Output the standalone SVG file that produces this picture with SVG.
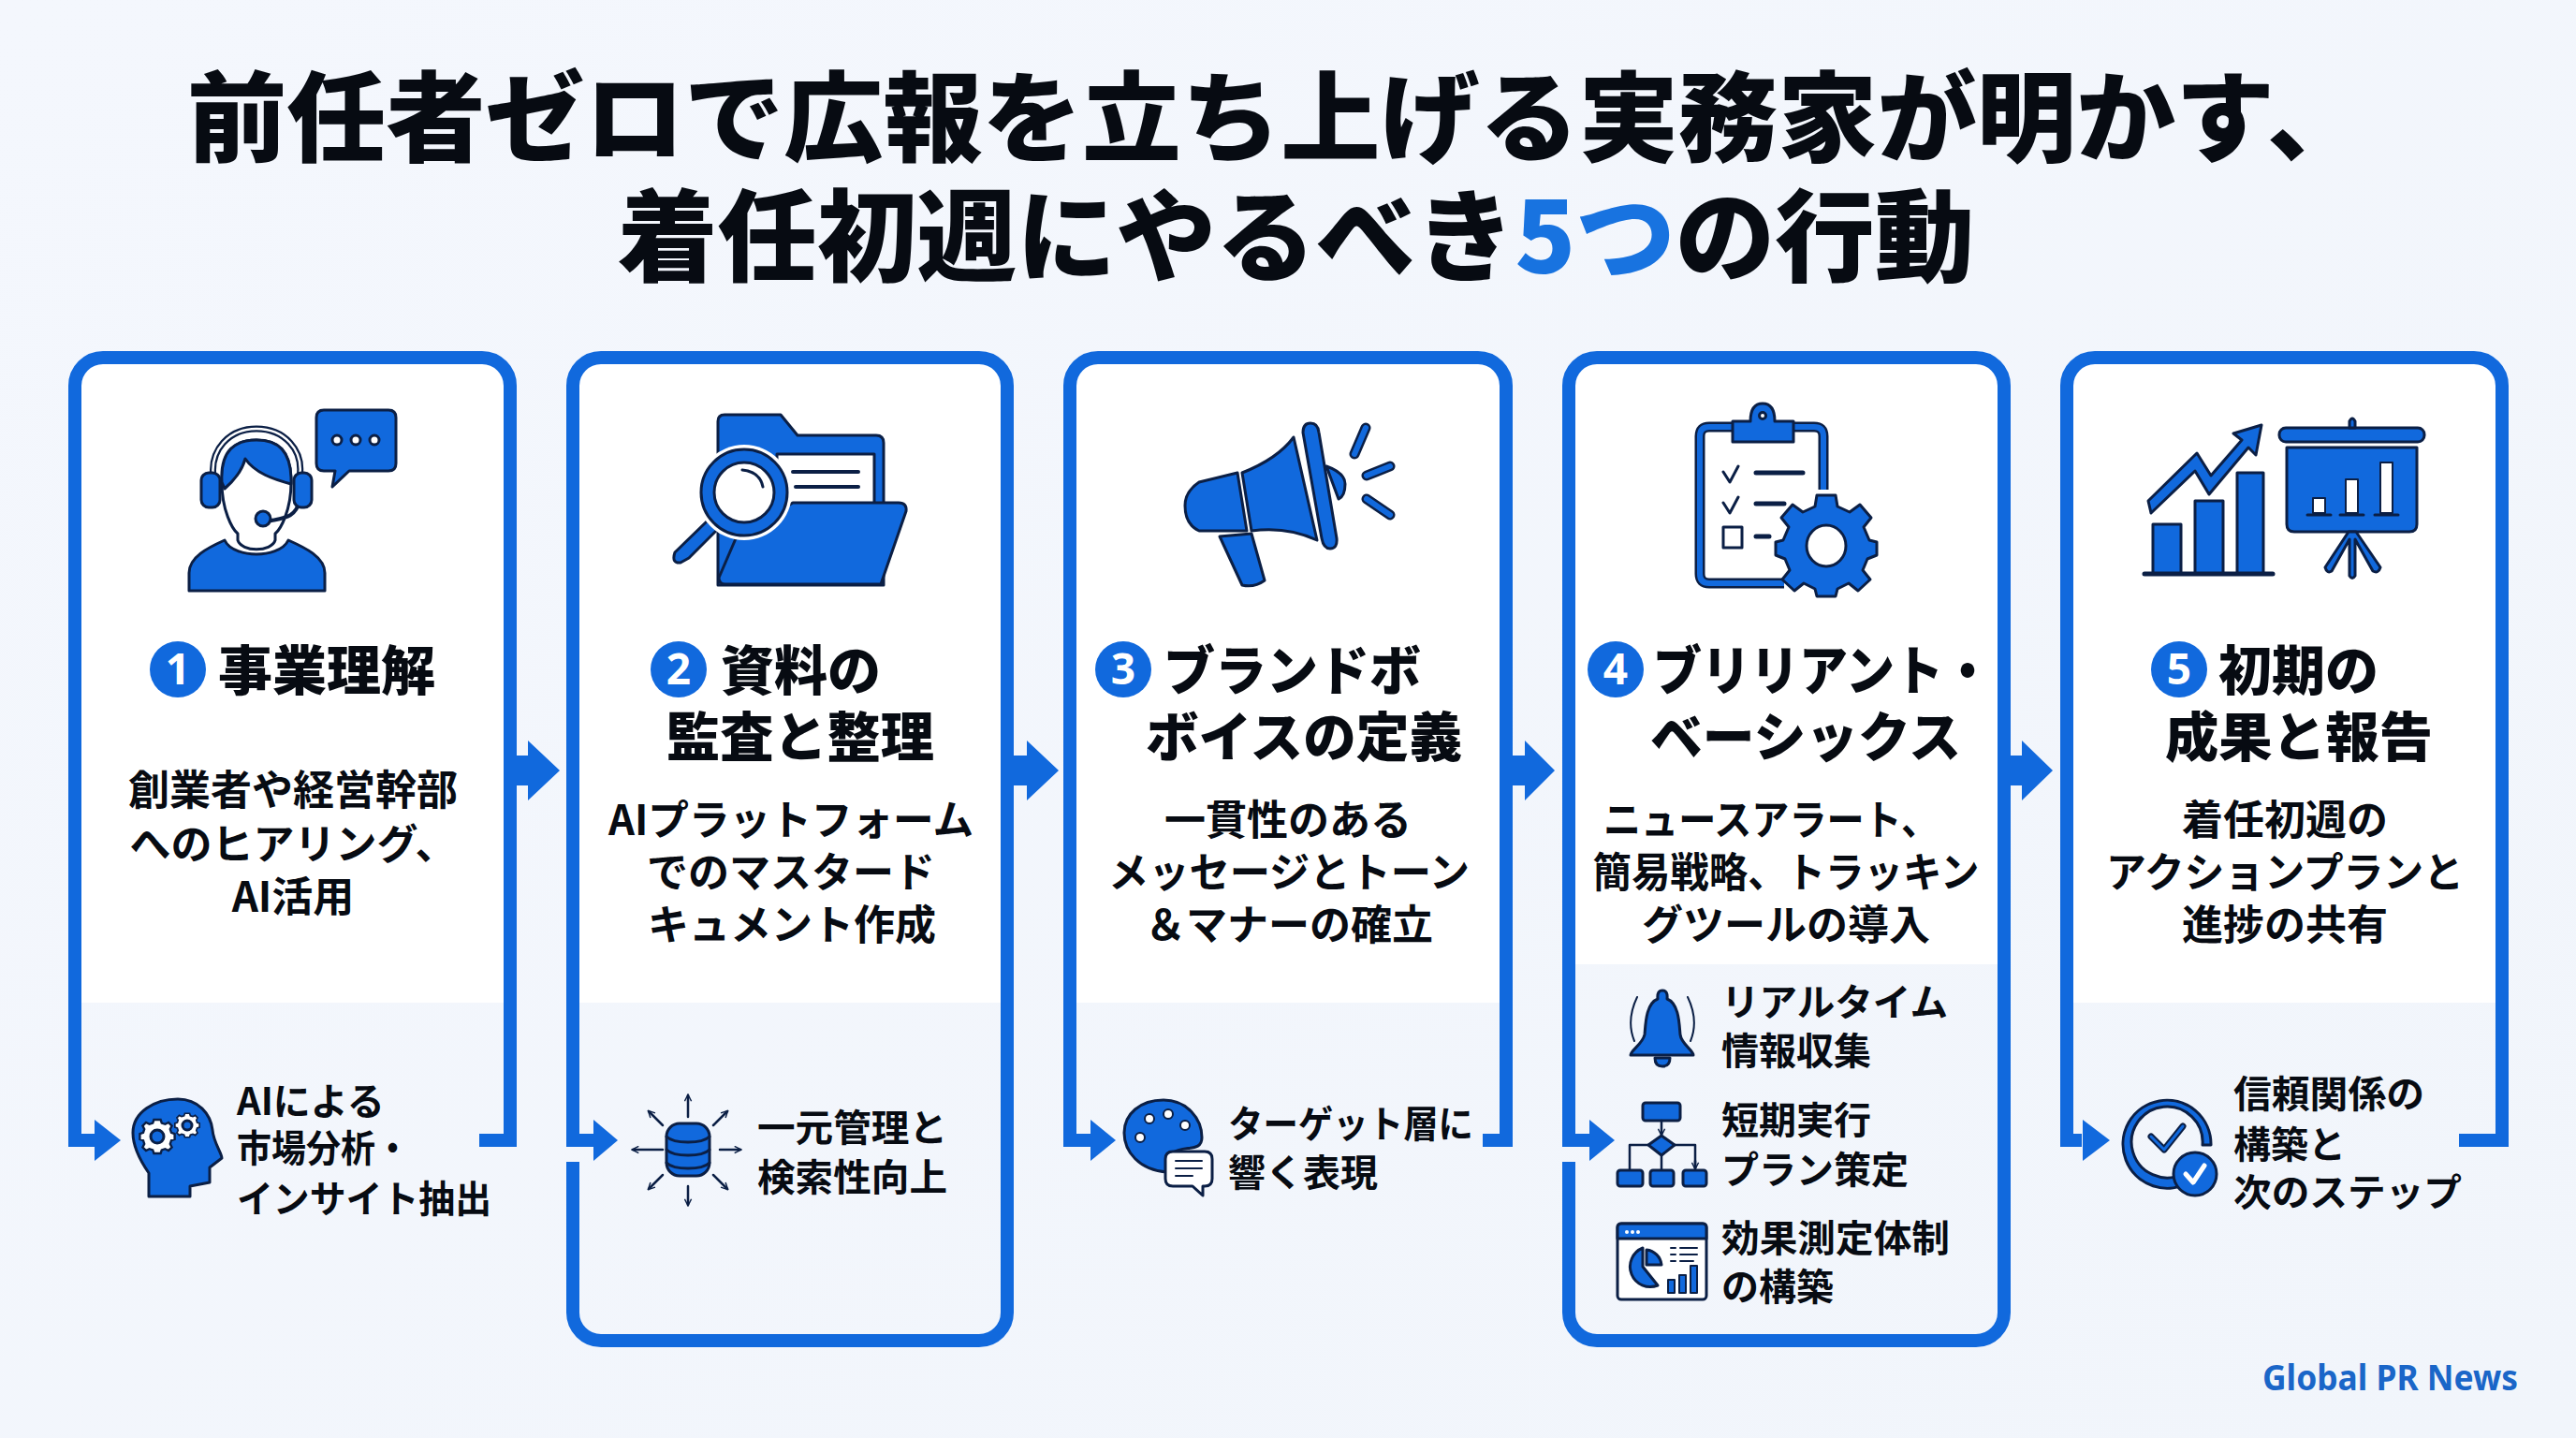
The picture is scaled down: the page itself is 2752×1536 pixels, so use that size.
<svg xmlns="http://www.w3.org/2000/svg" width="2752" height="1536" viewBox="0 0 2752 1536">
<style>
text{font-family:"Noto Sans CJK JP","Noto Sans",sans-serif;fill:#070b12}
.t{font-size:105px;font-weight:900}
.h{font-size:57px;font-weight:900}
.n{font-size:46px;font-weight:700;fill:#fff;text-anchor:middle;font-family:"Noto Sans","Noto Sans CJK JP",sans-serif}
.d{font-size:44px;font-weight:700;text-anchor:middle}
.s{font-size:40px;font-weight:700}
.frame{fill:none;stroke:#1169dd;stroke-width:14}
.b{fill:#1169dd}
.o{stroke:#0b1f45;stroke-width:3;stroke-linejoin:round}
.l{fill:none;stroke:#0b1f45;stroke-width:3;stroke-linecap:round;stroke-linejoin:round}
.w{fill:#fff}
.wl{fill:none;stroke:#fff;stroke-linecap:round;stroke-linejoin:round}
.bl{fill:none;stroke:#1169dd;stroke-linecap:round;stroke-linejoin:round}
</style>
<defs>
<linearGradient id="bg" x1="0" y1="0" x2="1" y2="1"><stop offset="0" stop-color="#f4f7fd"/><stop offset="1" stop-color="#f1f5fb"/></linearGradient>
<marker id="ah" viewBox="0 0 10 10" refX="8" refY="5" markerWidth="9" markerHeight="9" markerUnits="userSpaceOnUse" orient="auto"><path d="M1 1L9 5L1 9" fill="none" stroke="#0b1f45" stroke-width="1.6"/></marker>
<path id="gear" d="M-3-15h6l1 3 3 1 3-1.500 3 3-1.500 3 1 3 3 1v5l-3 1-1 3 1.500 3-3 3-3-1.500-3 1-1 3h-6l-1-3-3-1-3 1.500-3-3 1.500-3-1-3-3-1v-5l3-1 1-3-1.500-3 3-3 3 1.500 3-1z"/>
</defs>
<rect width="2752" height="1536" fill="url(#bg)"/>
<g id="title">
<text class="t" x="200" y="164" textLength="2328" lengthAdjust="spacingAndGlyphs">前任者ゼロで広報を立ち上げる実務家が明かす、</text>
<text class="t" x="660" y="292" style="font-size:106.500px">着任初週にやるべき<tspan style="fill:#1873e0">5つ</tspan>の行動</text>
</g>

<g id="card1">
<path class="w" d="M80 1071V412A30 30 0 0 1 110 382H515A30 30 0 0 1 545 412V1071Z"/>
<path class="frame" d="M105 1218H80V412A30 30 0 0 1 110 382H515A30 30 0 0 1 545 412V1218H512"/>
<g id="icon1">
<path class="b o" d="M202 631V612C202 595 222 585 240 577C245 588 262 592 274 592C286 592 303 588 308 577C326 585 347 595 347 612V631Z"/>
<path class="w o" d="M237 515C237 480 252 470 274 470C296 470 311 480 311 515C311 545 300 565 294 570V577C290 590 258 590 254 577V570C248 565 237 545 237 515Z"/>
<path class="b o" d="M237 515C235 480 252 470 274 470C296 470 312 480 311 517C292 512 272 505 262 490C258 505 248 515 240 522Z"/>
<path d="M228 510C224 480 245 458 274 458C303 458 325 480 320 510V535" fill="none" stroke="#0b1f45" stroke-width="7"/>
<path d="M228 510C224 480 245 458 274 458C303 458 325 480 320 510V535" fill="none" stroke="#fff" stroke-width="2.500"/>
<path class="l" d="M320 535C316 552 305 553 290 556" style="stroke-width:4"/>
<rect class="b o" x="215" y="505" width="20" height="37" rx="8"/><rect class="b o" x="314" y="505" width="19" height="37" rx="8"/>
<circle class="b o" cx="281" cy="554" r="8"/>
<path class="b o" d="M346 438H415Q423 438 423 446V495Q423 503 415 503H373L355 520L358 503H346Q338 503 338 495V446Q338 438 346 438Z"/>
<g class="w o"><circle cx="360" cy="470" r="5"/><circle cx="380" cy="470" r="5"/><circle cx="400" cy="470" r="5"/></g>
</g>
<circle class="b" cx="190" cy="715" r="30"/><text class="n" x="190" y="731">1</text>
<text class="h" x="233" y="737" textLength="232" lengthAdjust="spacingAndGlyphs">事業理解</text>
<text class="d" x="313" y="860">創業者や経営幹部</text>
<text class="d" x="313" y="918">へのヒアリング、</text>
<text class="d" x="313" y="974">AI活用</text>
<g id="icon1b">
<path class="b o" d="M159 1278V1253C150 1240 142 1225 142 1210C142 1188 165 1174 190 1174C212 1174 225 1190 227 1207C228 1220 237 1232 237 1237L224 1247V1263L203 1267V1278Z"/>
<use href="#gear" transform="translate(168 1214) scale(1.2)" fill="#fff" stroke="#0b1f45" stroke-width="2"/><circle class="b o" cx="168" cy="1214" r="7"/>
<use href="#gear" transform="translate(200 1202) scale(.85)" fill="#fff" stroke="#0b1f45" stroke-width="2"/><circle class="b o" cx="200" cy="1202" r="5"/>
</g>
<text class="s" x="253" y="1191">AIによる</text><text class="s" x="253" y="1241" textLength="185" lengthAdjust="spacingAndGlyphs">市場分析・</text><text class="s" x="253" y="1295" textLength="272" lengthAdjust="spacingAndGlyphs">インサイト抽出</text>
</g>

<g id="card2">
<path class="w" d="M612 1071V412A30 30 0 0 1 642 382H1046A30 30 0 0 1 1076 412V1071Z"/>
<path class="frame" d="M636 1218H612V412A30 30 0 0 1 642 382H1046A30 30 0 0 1 1076 412V1402A30 30 0 0 1 1046 1432H642A30 30 0 0 1 612 1402V1241"/>
<g id="icon2">
<path class="b o" d="M767 625V450Q767 443 774 443H834L852 465H936Q944 465 944 473V625Z"/>
<path class="w o" d="M830 485H934V540H830Z"/>
<path class="l" d="M847 504H917M850 520H917" style="stroke-width:4"/>
<path class="b o" d="M847 537H960Q969 537 968 546L941 624H775Q768 624 768 617L787 573Z"/>
<path class="b o" d="M756 556L721 590Q717 602 727 601L736 596L768 564Z"/>
<circle cx="795" cy="526" r="51" fill="#fff"/>
<circle class="b o" cx="795" cy="526" r="46"/>
<circle class="w o" cx="795" cy="526" r="32"/>
<path class="l" d="M793 502Q812 504 815 520"/>
</g>
<circle class="b" cx="725" cy="715" r="30"/><text class="n" x="725" y="731">2</text>
<text class="h" x="770" y="737">資料の</text>
<text class="h" x="712" y="808" textLength="286" lengthAdjust="spacingAndGlyphs">監査と整理</text>
<text class="d" x="845" y="892" textLength="390" lengthAdjust="spacingAndGlyphs">AIプラットフォーム</text>
<text class="d" x="845" y="948">でのマスタード</text>
<text class="d" x="846" y="1004">キュメント作成</text>
<g id="icon2b">
<rect class="b o" x="712" y="1200" width="46" height="56" rx="14"/>
<path class="l" d="M712 1214C720 1222 750 1222 758 1214M712 1228C720 1236 750 1236 758 1228M712 1242C720 1250 750 1250 758 1242"/>
<g class="l" style="stroke-width:2.500"><path marker-end="url(#ah)" d="M735 1193V1170"/><path marker-end="url(#ah)" d="M735 1267V1287"/><path marker-end="url(#ah)" d="M708 1228H676"/><path marker-end="url(#ah)" d="M769 1228H791"/><path marker-end="url(#ah)" d="M708 1202L693 1187"/><path marker-end="url(#ah)" d="M762 1202L777 1187"/><path marker-end="url(#ah)" d="M708 1255L693 1270"/><path marker-end="url(#ah)" d="M762 1255L777 1270"/></g>
</g>
<text class="s" x="809" y="1219" textLength="203" lengthAdjust="spacingAndGlyphs">一元管理と</text><text class="s" x="809" y="1272" textLength="203" lengthAdjust="spacingAndGlyphs">検索性向上</text>
</g>

<g id="card3">
<path class="w" d="M1143 1071V412A30 30 0 0 1 1173 382H1579A30 30 0 0 1 1609 412V1071Z"/>
<path class="frame" d="M1168 1218H1143V412A30 30 0 0 1 1173 382H1579A30 30 0 0 1 1609 412V1218H1584"/>
<g id="icon3">
<path class="b o" d="M1303 573L1327 625Q1340 628 1351 620L1337 570Z"/>
<path class="b o" d="M1281 515Q1266 525 1266 540Q1266 560 1281 567L1332 567L1322 505Z"/>
<path class="b o" d="M1382 467Q1365 490 1327 505L1337 567Q1375 562 1407 577Z"/>
<path class="b o" d="M1417 498Q1437 505 1437 517Q1437 530 1430 533Z"/>
<path class="b o" d="M1392 462Q1392 452 1400 452Q1408 452 1409 462L1428 575Q1429 586 1421 586Q1414 586 1412 575Z"/>
<path d="M1459 457L1447 485M1485 498L1460 508M1460 533L1485 550" fill="none" stroke="#0b1f45" stroke-width="11" stroke-linecap="round"/><path d="M1459 457L1447 485M1485 498L1460 508M1460 533L1485 550" class="bl" style="stroke-width:6"/>
</g>
<circle class="b" cx="1200" cy="715" r="30"/><text class="n" x="1200" y="731">3</text>
<text class="h" x="1243" y="737" textLength="275" lengthAdjust="spacingAndGlyphs">ブランドボ</text>
<text class="h" x="1224" y="808" textLength="338" lengthAdjust="spacingAndGlyphs">ボイスの定義</text>
<text class="d" x="1376" y="892">一貫性のある</text>
<text class="d" x="1377" y="948" textLength="386" lengthAdjust="spacingAndGlyphs">メッセージとトーン</text>
<text class="d" x="1377" y="1004">＆マナーの確立</text>
<g id="icon3b">
<path class="b o" d="M1243 1175C1268 1175 1284 1195 1284 1215C1284 1232 1264 1222 1252 1232L1247 1252C1217 1250 1201 1230 1201 1210C1201 1190 1218 1175 1243 1175Z"/>
<g class="w o" style="stroke-width:2"><circle cx="1228" cy="1195" r="5"/><circle cx="1248" cy="1190" r="5"/><circle cx="1266" cy="1202" r="5"/><circle cx="1218" cy="1215" r="5"/></g>
<path class="w o" d="M1253 1230H1287Q1295 1230 1295 1238V1259Q1295 1267 1287 1267H1285V1277L1274 1267H1253Q1245 1267 1245 1259V1238Q1245 1230 1253 1230Z"/>
<path class="l" d="M1256 1240H1284M1256 1248H1284M1256 1256H1274" style="stroke-width:2"/>
</g>
<text class="s" x="1312" y="1215" textLength="262" lengthAdjust="spacingAndGlyphs">ターゲット層に</text><text class="s" x="1312" y="1267">響く表現</text>
</g>

<g id="card4">
<path class="w" d="M1676 1030V412A30 30 0 0 1 1706 382H2111A30 30 0 0 1 2141 412V1030Z"/>
<path class="frame" d="M1698 1218H1676V412A30 30 0 0 1 1706 382H2111A30 30 0 0 1 2141 412V1402A30 30 0 0 1 2111 1432H1706A30 30 0 0 1 1676 1402V1241"/>
<g id="icon4">
<path fill="#fff" d="M1818 452H1945V523L1906 627H1818Z"/>
<path d="M1851 456H1826Q1816 456 1816 466V613Q1816 623 1826 623H1906M1916 456H1938Q1948 456 1948 466V523" fill="none" stroke="#0b1f45" stroke-width="11"/>
<path d="M1851 456H1826Q1816 456 1816 466V613Q1816 623 1826 623H1906M1916 456H1938Q1948 456 1948 466V523" fill="none" stroke="#1169dd" stroke-width="6"/>
<path class="b o" d="M1851 472V450H1870C1870 442 1872 431 1883 431C1894 431 1896 442 1896 450H1916V472Z"/>
<circle class="w o" cx="1883" cy="444" r="3.500"/>
<path class="l" d="M1841 504L1848 515L1857 498M1841 537L1848 548L1857 531"/>
<path class="l" d="M1876 505H1926M1876 538H1906M1876 573H1890" style="stroke-width:5"/>
<rect class="w o" x="1841" y="563" width="20" height="22"/>
<g transform="translate(1951 583)">
<path class="b o" d="M-10-54H10L12-42 25-36 36-44 48-30 40-20 46-6 54-4V10L44 14 39 26 47 36 34 48 24 40 12 46 10 54H-10L-12 46-24 40-34 48-47 36-39 26-44 14-54 10V-4L-46-6-40-20-48-30-36-44-25-36-12-42Z"/>
<ellipse class="w o" rx="21" ry="22"/>
</g>
</g>
<circle class="b" cx="1726" cy="715" r="30"/><text class="n" x="1726" y="731">4</text>
<text class="h" x="1766" y="737" textLength="362" lengthAdjust="spacingAndGlyphs">ブリリアント・</text>
<text class="h" x="1763" y="808" textLength="332" lengthAdjust="spacingAndGlyphs">ベーシックス</text>
<text class="d" x="1892" y="892" textLength="358" lengthAdjust="spacingAndGlyphs">ニュースアラート、</text>
<text class="d" x="1908" y="948" textLength="413" lengthAdjust="spacingAndGlyphs">簡易戦略、トラッキン</text>
<text class="d" x="1908" y="1004">グツールの導入</text>
<g id="icon4a" transform="translate(4 0)">
<path d="M1745 1065Q1733 1090 1742 1112M1799 1065Q1811 1090 1802 1112" class="l" style="stroke-width:2"/>
<path class="b o" d="M1767 1067Q1766 1058 1772 1058Q1778 1058 1777 1067C1790 1072 1790 1095 1791 1105C1792 1115 1805 1122 1805 1127H1738C1738 1122 1751 1115 1753 1105C1754 1095 1754 1072 1767 1067Z"/>
<path class="b o" d="M1764 1130H1780Q1780 1139 1772 1139Q1764 1139 1764 1130Z"/>
</g>
<text class="s" x="1839" y="1085" textLength="242" lengthAdjust="spacingAndGlyphs">リアルタイム</text><text class="s" x="1839" y="1137">情報収集</text>
<g id="icon4b" transform="translate(3 0)">
<rect class="b o" x="1752" y="1178" width="40" height="19" rx="3"/>
<path class="l" d="M1772 1197V1212" marker-end="url(#ah)" style="stroke-width:2.500"/>
<path class="b o" d="M1772 1213L1786 1223L1772 1234L1758 1223Z"/>
<path class="l" d="M1758 1223H1738V1250M1786 1223H1808V1248" style="stroke-width:2.500"/>
<path class="l" d="M1808 1240V1248" marker-end="url(#ah)" style="stroke-width:2.500"/>
<path class="l" d="M1772 1234V1250" style="stroke-width:2.500"/>
<rect class="b o" x="1725" y="1250" width="27" height="17" rx="3"/><rect class="b o" x="1760" y="1250" width="25" height="17" rx="3"/><rect class="b o" x="1795" y="1250" width="25" height="17" rx="3"/>
</g>
<text class="s" x="1839" y="1211">短期実行</text><text class="s" x="1839" y="1264">プラン策定</text>
<g id="icon4c" transform="translate(3 0)">
<rect class="w o" x="1725" y="1307" width="95" height="81" rx="4"/>
<path class="b o" d="M1725 1323V1311Q1725 1307 1729 1307H1816Q1820 1307 1820 1311V1323Z"/>
<g class="w"><circle cx="1735" cy="1316" r="2"/><circle cx="1741" cy="1316" r="2"/><circle cx="1747" cy="1316" r="2"/></g>
<path class="b o" d="M1752 1333A20 20 0 1 0 1768 1373L1752 1353Z"/>
<path class="b o" d="M1756 1335A18 18 0 0 1 1772 1351H1756Z"/>
<path class="l" d="M1782 1333H1787M1792 1333H1810M1782 1340H1787M1792 1340H1810M1782 1347H1787M1792 1347H1806" style="stroke-width:2"/>
<rect class="b o" x="1779" y="1367" width="7" height="14" style="stroke-width:2"/><rect class="b o" x="1791" y="1362" width="7" height="19" style="stroke-width:2"/><rect class="b o" x="1803" y="1352" width="7" height="29" style="stroke-width:2"/>
</g>
<text class="s" x="1839" y="1337" textLength="244" lengthAdjust="spacingAndGlyphs">効果測定体制</text><text class="s" x="1839" y="1389">の構築</text>
</g>

<g id="card5">
<path class="w" d="M2208 1071V412A30 30 0 0 1 2238 382H2643A30 30 0 0 1 2673 412V1071Z"/>
<path class="frame" d="M2224 1218H2208V412A30 30 0 0 1 2238 382H2643A30 30 0 0 1 2673 412V1218H2627"/>
<g id="icon5">
<g class="b o"><rect x="2300" y="560" width="30" height="53"/><rect x="2345" y="535" width="30" height="78"/><rect x="2390" y="505" width="28" height="108"/></g>
<path class="l" d="M2291 613H2428" style="stroke-width:5"/>
<path class="b o" d="M2295 535L2347 484L2362 508L2395 470L2386 463L2416 454L2410 486L2402 478L2360 528L2345 503L2298 548Z"/>
<rect class="b o" x="2435" y="457" width="155" height="15" rx="7"/>
<path class="b o" d="M2510 457V450Q2513 444 2516 450V457Z"/>
<path class="b o" d="M2443 478H2582V560Q2582 568 2574 568H2451Q2443 568 2443 560Z"/>
<g class="w o" style="stroke-width:2"><rect x="2471" y="532" width="13" height="16"/><rect x="2506" y="512" width="13" height="36"/><rect x="2543" y="494" width="13" height="54"/></g>
<path class="l" d="M2465 550H2490M2500 550H2525M2537 550H2562"/>
<path class="b o" d="M2509 568L2484 606Q2486 613 2491 610L2510 576V615Q2513 620 2516 615V576L2535 610Q2541 613 2543 606L2517 568Z"/>
</g>
<circle class="b" cx="2328" cy="715" r="30"/><text class="n" x="2328" y="731">5</text>
<text class="h" x="2370" y="737">初期の</text>
<text class="h" x="2313" y="808" textLength="286" lengthAdjust="spacingAndGlyphs">成果と報告</text>
<text class="d" x="2441" y="892">着任初週の</text>
<text class="d" x="2441" y="948" textLength="382" lengthAdjust="spacingAndGlyphs">アクションプランと</text>
<text class="d" x="2441" y="1004">進捗の共有</text>
<g id="icon5b" transform="translate(7 0)">
<path class="b o" d="M2333 1262A47 47 0 1 1 2355 1223H2346A38 38 0 1 0 2325 1254Z"/>
<path d="M2291 1214L2305 1228L2325 1203" class="l" style="stroke-width:7"/><path class="bl" d="M2291 1214L2305 1228L2325 1203" style="stroke-width:3"/>
<circle class="b o" cx="2338" cy="1254" r="23"/>
<path class="wl" d="M2328 1254L2336 1263L2348 1245" style="stroke-width:5"/>
</g>
<text class="s" x="2386" y="1183" textLength="204" lengthAdjust="spacingAndGlyphs">信頼関係の</text><text class="s" x="2386" y="1237">構築と</text><text class="s" x="2386" y="1288" textLength="244" lengthAdjust="spacingAndGlyphs">次のステップ</text>
</g>

<g id="connectors" class="b">
<path d="M552 807H564V791L598 823L564 855V839H552Z"/>
<path d="M1083 807H1097V791L1131 823L1097 855V839H1083Z"/>
<path d="M1616 807H1629V791L1661 823L1629 855V839H1616Z"/>
<path d="M2147 807H2160V791L2193 823L2160 855V839H2147Z"/>
<path d="M101 1196L129 1218L101 1240Z"/>
<path d="M634 1196L660 1218L634 1240Z"/>
<path d="M1165 1196L1192 1218L1165 1240Z"/>
<path d="M1698 1196L1725 1218L1698 1240Z"/>
<path d="M2225 1196L2254 1218L2225 1240Z"/>
</g>
<text id="brand" x="2417" y="1485" textLength="273" lengthAdjust="spacingAndGlyphs" style="font-family:'Noto Sans',sans-serif;font-size:38px;font-weight:700;fill:#1a66c8">Global PR News</text>
</svg>
